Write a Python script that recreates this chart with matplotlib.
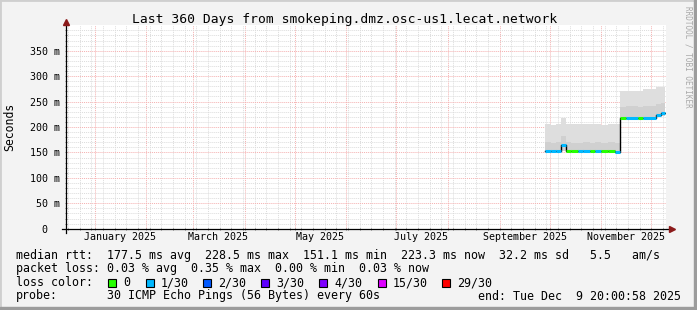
import matplotlib
matplotlib.use('Agg')
import matplotlib.pyplot as plt
import matplotlib.dates as mdates
from matplotlib.patches import Rectangle
from datetime import datetime

# data (ms)
sample_dates = ['2025-09-28', '2025-10-02', '2025-10-05', '2025-10-08', '2025-10-11',
                '2025-10-14', '2025-10-18', '2025-10-21', '2025-10-25', '2025-10-28',
                '2025-11-01', '2025-11-05', '2025-11-09', '2025-11-12', '2025-11-16',
                '2025-11-23', '2025-11-26', '2025-12-04', '2025-12-07', '2025-12-09 08:00']
median_ms = [153.5, 153.5, 153.0, 164.0, 153.0, 153.0, 153.5, 153.0, 153.0, 153.5,
             153.0, 153.0, 151.0, 218.3, 218.3, 218.3, 218.3, 223.5, 228.5, 228.5]
loss_idx = [1, 1, 1, 1, 0, 0, 1, 1, 0, 1, 0, 0, 1, 0, 1, 0, 1, 1, 1, 1]
smoke_lo = [150, 150, 150, 152, 150, 150, 150, 150, 150, 150,
            150, 150, 149, 216, 216, 216, 216, 219, 221, 221]
smoke_mid = [170, 168, 170, 182, 170, 168, 168, 170, 168, 170,
             168, 170, 168, 240, 242, 240, 242, 246, 248, 248]
smoke_hi = [205, 204, 206, 217, 206, 205, 206, 205, 206, 205,
            204, 205, 205, 270, 271, 270, 274, 278, 279, 279]

loss_labels = ['0', '1/30', '2/30', '3/30', '4/30', '15/30', '29/30']
loss_colors = ['#26ff00', '#00b8ff', '#0059ff', '#5e00ff', '#7e00ff', '#dd00ff', '#ff0000']

title = 'Last 360 Days from smokeping.dmz.osc-us1.lecat.network'
line_rtt = 'median rtt:  177.5 ms avg  228.5 ms max  151.1 ms min  223.3 ms now  32.2 ms sd   5.5   am/s'
line_loss = 'packet loss: 0.03 % avg  0.35 % max  0.00 % min  0.03 % now'
probe_txt = '30 ICMP Echo Pings (56 Bytes) every 60s'
end_txt = 'end: Tue Dec  9 20:00:58 2025'

start = datetime(2024, 12, 14, 20, 0, 58)
end = datetime(2025, 12, 9, 20, 0, 58)

plt.rcParams['font.family'] = ['DejaVu Sans Mono']
W, H = 697, 310
fig = plt.figure(figsize=(W / 100, H / 100), dpi=100)
fig.patch.set_facecolor('#f3f3f3')

# frame around the picture
fig.patches.append(Rectangle((0, 0), 1, 1, transform=fig.transFigure, fill=False,
                             edgecolor='#cfcfcf', lw=2))
fig.patches.append(Rectangle((W - 3, 0), 3, H, transform=None, color='#9c9c9c'))
fig.patches.append(Rectangle((0, 0), W, 3, transform=None, color='#9c9c9c'))

top, bot = 25.3, 228.7
ax_h = bot - top
ax = fig.add_axes([66 / W, (H - bot) / H, 600 / W, ax_h / H])
ax.set_facecolor('white')

d = [datetime.fromisoformat(s) for s in sample_dates]

ax.fill_between(d, smoke_lo, smoke_hi, step='post', color='#dedede', lw=0, zorder=2)
ax.fill_between(d, smoke_lo, smoke_mid, step='post', color='#d0d0d0', lw=0, zorder=2)
ax.step(d, median_ms, where='post', color='black', lw=1, zorder=3)
for i in range(len(d) - 1):
    ax.plot([d[i], d[i + 1]], [median_ms[i], median_ms[i]], color=loss_colors[loss_idx[i]],
            lw=2.2, solid_capstyle='butt', zorder=4)

ax.set_xlim(start, end)
ax.set_ylim(0, 400)

ax.xaxis.set_major_locator(mdates.MonthLocator())
ax.xaxis.set_minor_locator(mdates.WeekdayLocator(byweekday=mdates.MO))
ax.xaxis.set_major_formatter(plt.NullFormatter())
ax.set_yticks(range(0, 400, 50))
ax.set_yticks(range(0, 400, 10), minor=True)
ax.set_yticklabels(['0  '] + ['%d m' % v for v in range(50, 400, 50)], fontsize=7.2)

ax.grid(which='minor', color='#dcdcdc', lw=0.7, ls=(0, (1, 1)), zorder=1)
ax.grid(which='major', color='#f5b0b0', lw=0.7, ls=(0, (1, 1)), zorder=1)
ax.set_axisbelow(True)

for s in ax.spines.values():
    s.set_visible(False)
ax.tick_params(which='both', length=2, width=0.6, color='#666666', direction='inout', pad=3)
ax.tick_params(axis='x', which='both', labelbottom=False)

# axis lines and arrows
ax.plot([-4 / 600, 1 + 3 / 600], [0, 0], transform=ax.transAxes, color='black',
        lw=0.9, clip_on=False, zorder=5)
ax.plot([0, 0], [-4 / ax_h, 1 + 1 / ax_h], transform=ax.transAxes, color='black',
        lw=0.9, clip_on=False, zorder=5)
ax.plot(1 + 6 / 600, 0, marker='>', ms=4.5, color='#8b1a1a', transform=ax.transAxes,
        clip_on=False, zorder=6)
ax.plot(0, 1 + 3 / ax_h, marker='^', ms=4.5, color='#8b1a1a', transform=ax.transAxes,
        clip_on=False, zorder=6)

# month labels centred on the month
for m in [1, 3, 5, 7, 9, 11]:
    ax.text(datetime(2025, m, 16), -8.5 / ax_h, datetime(2025, m, 1).strftime('%B %Y'),
            transform=ax.get_xaxis_transform(), ha='center', va='center', fontsize=7.2)

def px(x, y):
    return x / W, 1 - y / H

fig.text(*px(345, 20), title, ha='center', va='center', fontsize=9.4)
fig.text(*px(10, 127), 'Seconds', rotation=90, ha='center', va='center', fontsize=8.3)
fig.text(*px(688, 57), 'RRDTOOL / TOBI OETIKER', rotation=-90, ha='center', va='center',
         fontsize=5.5, color='#a8a8a8')

fs = 8.4
fig.text(*px(16, 255), line_rtt, ha='left', va='center', fontsize=fs)
fig.text(*px(16, 268.5), line_loss, ha='left', va='center', fontsize=fs)
fig.text(*px(16, 282.5), 'loss color:', ha='left', va='center', fontsize=fs)
box_x = [108, 146, 203, 261, 319, 378, 442]
for bx, lab, col in zip(box_x, loss_labels, loss_colors):
    fig.patches.append(Rectangle((bx, H - 286.5), 8, 8, transform=None, facecolor=col,
                                 edgecolor='black', lw=0.8))
    fig.text(*px(bx + 15, 282.5), lab, ha='left', va='center', fontsize=fs)
fig.text(*px(16, 296), 'probe:', ha='left', va='center', fontsize=fs)
fig.text(*px(107, 296), probe_txt, ha='left', va='center', fontsize=fs)
fig.text(*px(681, 296), end_txt, ha='right', va='center', fontsize=fs)

fig.savefig('out.png', dpi=100, facecolor=fig.get_facecolor())
